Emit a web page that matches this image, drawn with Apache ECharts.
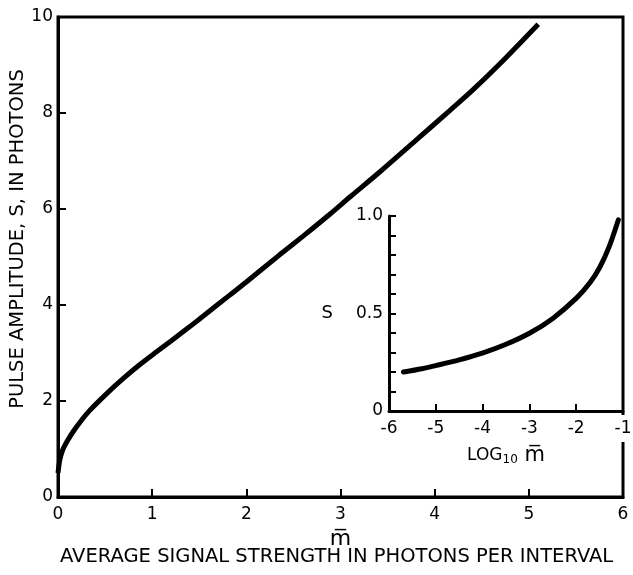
<!DOCTYPE html>
<html>
<head>
<meta charset="utf-8">
<script src="https://cdn.jsdelivr.net/npm/echarts@6/dist/echarts.min.js"></script>
<style>
html,body{margin:0;padding:0;background:#fff;}
#chart{width:633px;height:575px;}
</style>
</head>
<body>
<div id="chart"></div>
<script>
// main curve: average signal m vs pulse amplitude S
var mainX=[0,0.02,0.05,0.1,0.16,0.25,0.34,0.52,0.7,0.87,1.05,1.2,1.4,1.6,1.82,2.0,2.35,2.6,2.88,3.1,3.41,3.8,4.16,4.4,4.69,5.1];
var mainS=[0.5,0.78,0.98,1.17,1.36,1.6,1.81,2.16,2.48,2.76,3.03,3.25,3.55,3.86,4.2,4.48,5.04,5.43,5.88,6.25,6.76,7.43,8.05,8.47,9.02,9.85];
// inset: log10 m vs S
var insetX=[-5.69,-5.3,-4.98,-4.5,-3.99,-3.5,-2.99,-2.5,-1.99,-1.7,-1.49,-1.3,-1.1];
var insetS=[0.2,0.217,0.234,0.262,0.298,0.342,0.4,0.475,0.58,0.66,0.74,0.84,0.98];
var insetLabels={"0":"0","0.5":"0.5","1":"1.0"};

var FONT='"DejaVu Sans", sans-serif';

function pairs(xs,ys){
	var out=[];
	for(var i=0;i<xs.length;i++){
		out.push([xs[i],ys[i]]);
	}
	return out;
}

var myChart=echarts.init(document.getElementById("chart"));
var option={
	backgroundColor:'#fff',
	animation:false,
	title:{
		text:'AVERAGE SIGNAL STRENGTH IN PHOTONS PER INTERVAL',
		left:55,
		bottom:3,
		textStyle:{fontFamily:FONT,fontSize:19.5,fontWeight:'normal',color:'#000'}
	},
	grid:[
		{left:58,right:10,top:17,bottom:78,outerBoundsMode:'none',show:true,borderColor:'#000',borderWidth:3,backgroundColor:'transparent'},
		{left:389,right:10,top:216,bottom:164,outerBoundsMode:'none'}
	],
	xAxis:[
		{
			gridIndex:0,type:'value',min:0,max:6,interval:1,
			name:'m\u0305',nameLocation:'middle',nameGap:22,
			nameTextStyle:{fontFamily:FONT,fontSize:22,color:'#000'},
			axisLine:{lineStyle:{color:'#000',width:3}},
			axisTick:{inside:true,length:8,lineStyle:{color:'#000',width:2}},
			axisLabel:{margin:9,fontFamily:FONT,fontSize:17,color:'#000'},
			splitLine:{show:false}
		},
		{
			gridIndex:1,type:'value',min:-6,max:-1,interval:1,
			name:'{a|LOG}{b|10}{c| m\u0305}',nameLocation:'middle',nameGap:34,
			nameTextStyle:{
				fontFamily:FONT,color:'#000',
				rich:{
					a:{fontFamily:FONT,fontSize:17,color:'#000'},
					b:{fontFamily:FONT,fontSize:12,color:'#000',padding:[8,0,0,0]},
					c:{fontFamily:FONT,fontSize:21,color:'#000'}
				}
			},
			axisLine:{lineStyle:{color:'#000',width:3}},
			axisTick:{inside:true,length:7,lineStyle:{color:'#000',width:2}},
			axisLabel:{margin:4,fontFamily:FONT,fontSize:17,color:'#000',backgroundColor:'#fff',padding:[5,3]},
			splitLine:{show:false}
		}
	],
	yAxis:[
		{
			gridIndex:0,type:'value',min:0,max:10,interval:2,
			name:'PULSE AMPLITUDE, S, IN PHOTONS',nameLocation:'middle',nameGap:30,nameMoveOverlap:false,
			nameTextStyle:{fontFamily:FONT,fontSize:19.5,color:'#000',padding:[0,0,0,36]},
			axisLine:{lineStyle:{color:'#000',width:3}},
			axisTick:{inside:true,length:8,lineStyle:{color:'#000',width:2}},
			axisLabel:{margin:5,fontFamily:FONT,fontSize:17,color:'#000'},
			splitLine:{show:false}
		},
		{
			gridIndex:1,type:'value',min:0,max:1,interval:0.1,
			name:'S',nameLocation:'middle',nameRotate:0,nameGap:56,
			nameTextStyle:{fontFamily:FONT,fontSize:18,color:'#000'},
			axisLine:{lineStyle:{color:'#000',width:3}},
			axisTick:{inside:true,length:7,lineStyle:{color:'#000',width:2}},
			axisLabel:{
				margin:6,fontFamily:FONT,fontSize:17,color:'#000',showMinLabel:true,showMaxLabel:true,
				formatter:function(v){
					var k=String(Math.round(v*10)/10);
					return insetLabels[k]!==undefined?insetLabels[k]:'';
				}
			},
			splitLine:{show:false}
		}
	],
	series:[
		{
			type:'line',xAxisIndex:0,yAxisIndex:0,
			data:pairs(mainX,mainS),
			smooth:0.3,showSymbol:false,
			lineStyle:{color:'#000',width:5}
		},
		{
			type:'line',xAxisIndex:1,yAxisIndex:1,
			data:pairs(insetX,insetS),
			smooth:0.3,showSymbol:false,
			lineStyle:{color:'#000',width:5,cap:'round'}
		}
	]
};
myChart.setOption(option);
</script>
</body>
</html>
